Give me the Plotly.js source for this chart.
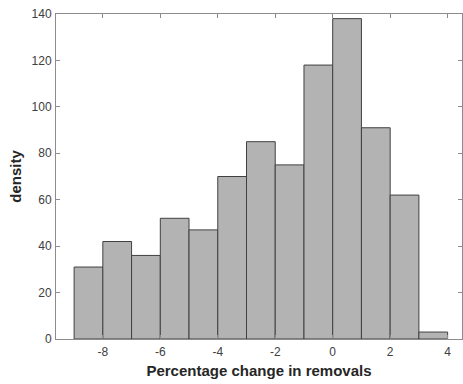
<!DOCTYPE html>
<html>
<head>
<meta charset="utf-8">
<script src="https://cdn.plot.ly/plotly-3.0.1.min.js"></script>
<style>html,body{margin:0;padding:0;background:#fff;}#chart{width:463px;height:384px;}</style>
</head>
<body>
<div id="chart"></div>
<script>
const binCenters = [-8.5, -7.5, -6.5, -5.5, -4.5, -3.5, -2.5, -1.5, -0.5, 0.5, 1.5, 2.5, 3.5];
const densities = [31, 42, 36, 52, 47, 70, 85, 75, 118, 138, 91, 62, 3];
const xTicks = [-8, -6, -4, -2, 0, 2, 4];
const yTicks = [0, 20, 40, 60, 80, 100, 120, 140];

const trace = {
  type: 'bar',
  x: binCenters,
  y: densities,
  width: 1,
  marker: {color: '#b3b3b3', line: {color: '#404040', width: 1}},
  hoverinfo: 'none'
};

const axisCommon = {
  showgrid: false,
  zeroline: false,
  showline: true,
  linecolor: '#8c8c8c',
  linewidth: 1,
  mirror: 'ticks',
  ticks: 'inside',
  ticklen: 4,
  tickcolor: '#8c8c8c',
  tickfont: {family: 'Liberation Sans, Arial, sans-serif', size: 12, color: '#404040'}
};

const layout = {
  width: 463,
  height: 384,
  margin: {l: 56, r: 1, t: 14, b: 45},
  paper_bgcolor: '#fff',
  plot_bgcolor: '#fff',
  showlegend: false,
  bargap: 0,
  xaxis: Object.assign({}, axisCommon, {
    range: [-9.63, 4.5],
    tickvals: xTicks,
    ticktext: xTicks.map(String),
    ticklabelstandoff: 2,
    title: {text: 'Percentage change in removals', standoff: 7,
      font: {family: 'Liberation Sans, Arial, sans-serif', size: 15, color: '#262626', weight: 'bold'}}
  }),
  yaxis: Object.assign({}, axisCommon, {
    range: [0, 140],
    tickvals: yTicks,
    ticktext: yTicks.map(String),
    ticklabelstandoff: 1,
    title: {text: 'density', standoff: 6,
      font: {family: 'Liberation Sans, Arial, sans-serif', size: 15, color: '#262626', weight: 'bold'}}
  })
};

Plotly.newPlot('chart', [trace], layout, {staticPlot: true, displayModeBar: false});
</script>
</body>
</html>
